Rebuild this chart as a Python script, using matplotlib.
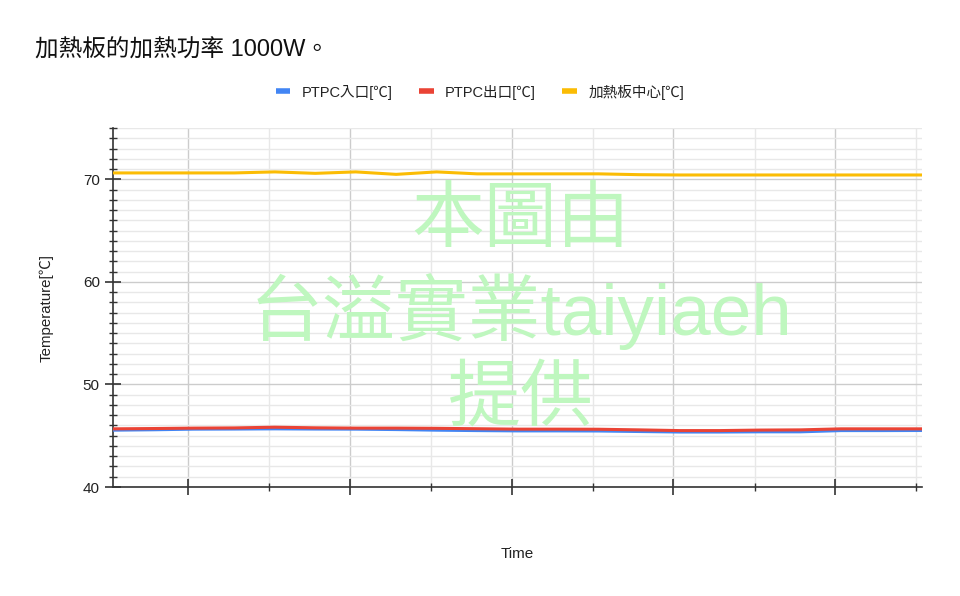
import matplotlib
matplotlib.use("Agg")
import matplotlib.pyplot as plt
import numpy as np

plt.rcParams['font.family'] = ['Liberation Sans', 'Noto Sans CJK TC', 'DejaVu Sans']

title = "加熱板的加熱功率 1000W。"
series_names = ["PTPC入口[℃]", "PTPC出口[℃]", "加熱板中心[℃]"]
time_idx = list(range(21))
inlet = [45.54, 45.58, 45.64, 45.65, 45.67, 45.65, 45.64, 45.60, 45.54, 45.50, 45.47,
         45.47, 45.46, 45.41, 45.36, 45.36, 45.38, 45.38, 45.50, 45.50, 45.51]
outlet = [45.67, 45.70, 45.74, 45.76, 45.83, 45.77, 45.74, 45.74, 45.72, 45.68, 45.64,
          45.64, 45.63, 45.57, 45.50, 45.50, 45.55, 45.57, 45.67, 45.67, 45.67]
center = [70.62, 70.62, 70.62, 70.62, 70.72, 70.58, 70.72, 70.48, 70.72, 70.53, 70.53,
          70.53, 70.53, 70.45, 70.42, 70.42, 70.42, 70.42, 70.42, 70.42, 70.42]
y_ticks = [40, 50, 60, 70]
watermark = ["本圖由", "台溢實業taiyiaeh", "提供"]

colors = ["#4285F4", "#EA4335", "#FBBC04"]

fig = plt.figure(figsize=(9.6, 5.96), dpi=100)
ax = fig.add_axes([113/960, 1-487/596, (922-113)/960, (487-128)/596])

for vals, name, c in zip([inlet, outlet, center], series_names, colors):
    ax.plot(time_idx, vals, color=c, lw=2.2, label=name, zorder=3, solid_capstyle='butt')

ax.set_xlim(0, 20)
ax.set_ylim(40, 75)
ax.set_yticks(y_ticks)
ax.set_yticks(np.arange(41, 75.5, 1), minor=True)
ax.set_xticks(np.arange(1.855, 20, 4.0))
ax.set_xticks(np.arange(3.86, 20.1, 4.0), minor=True)
ax.set_xticklabels([])

ax.grid(True, which='major', color='#cccccc', lw=1.0, zorder=0)
ax.grid(True, which='minor', color='#e8e8e8', lw=1.0, zorder=0)
ax.set_axisbelow(True)

for s in ['top', 'right']:
    ax.spines[s].set_visible(False)
for s in ['left', 'bottom']:
    ax.spines[s].set_color('#333333')
    ax.spines[s].set_linewidth(1.2)

ax.tick_params(axis='both', which='major', direction='inout', length=11, width=1.2,
               color='#333333', labelsize=11, labelcolor='#222222')
ax.tick_params(axis='both', which='minor', direction='inout', length=5.5, width=1.0,
               color='#333333')
ax.tick_params(axis='y', which='major', pad=4)

ax.set_ylabel("Temperature[℃]", fontsize=10.8, color='#222222', labelpad=21)
ax.set_xlabel("Time", fontsize=11, color='#222222', labelpad=34.5)

fig.text(35/960, 1-50/596, title, fontsize=17, color='#111111', va='center', ha='left')

leg = fig.legend(loc='center', bbox_to_anchor=(480/960, 1-92/596), ncol=3, frameon=False,
                 fontsize=10.5, handlelength=1.0, handletextpad=0.8, columnspacing=1.8)
for h in leg.get_lines():
    h.set_linewidth(4)
for t in leg.get_texts():
    t.set_color('#222222')

wx = (521-113)/809
for txt, yp in zip(watermark, [222, 311, 401]):
    ax.text(wx, (487-yp)/359, txt, transform=ax.transAxes, fontsize=52.5, color='#bff7bf',
            ha='center', va='center', zorder=4)

fig.savefig("out.png", dpi=100)
